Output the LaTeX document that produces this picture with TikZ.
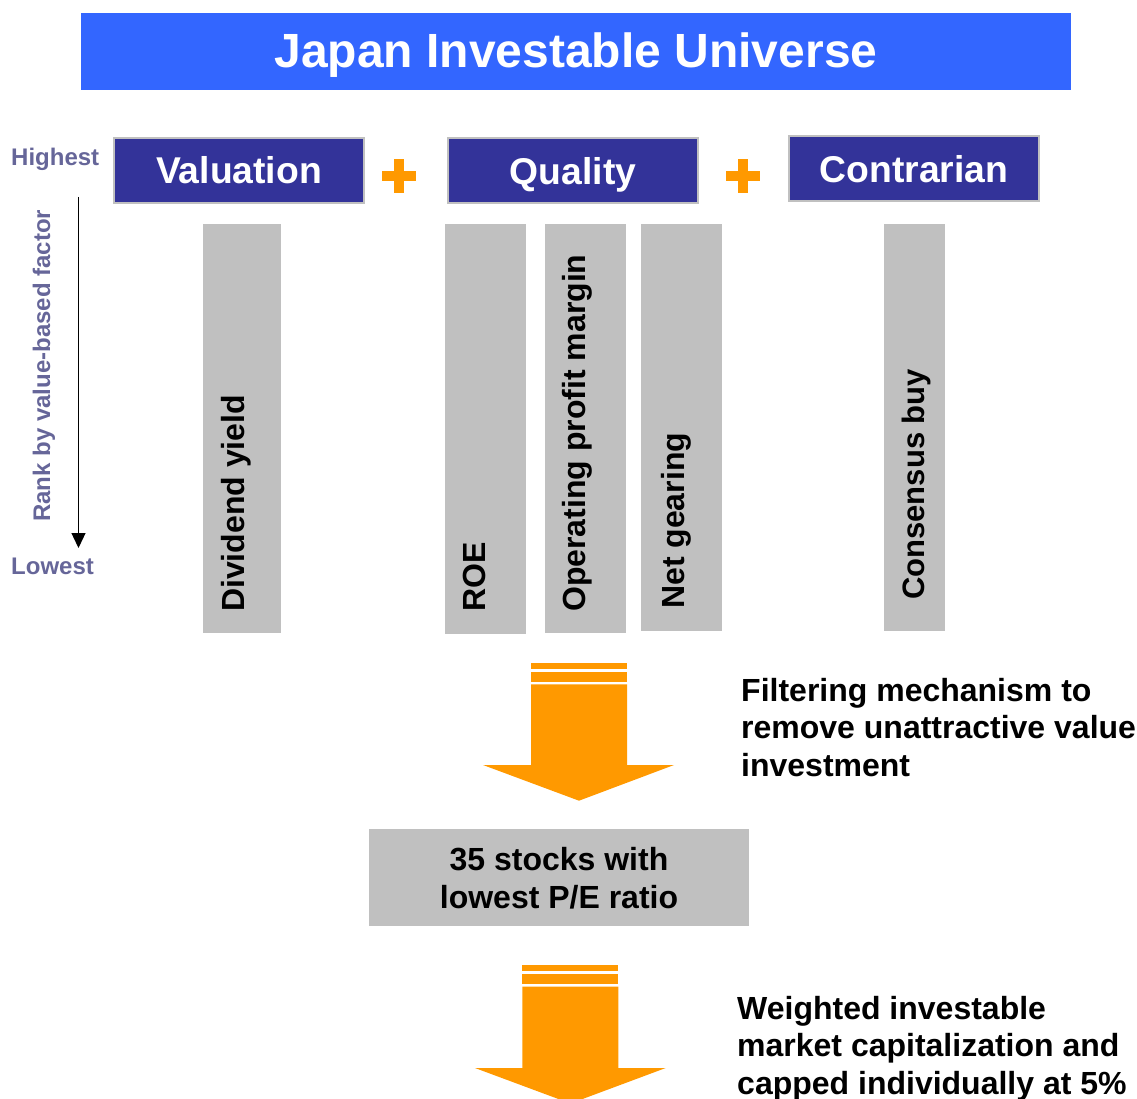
\documentclass[tikz,border=0pt]{standalone}
\usepackage{fontspec}
\setmainfont{Liberation Sans}
\usetikzlibrary{arrows.meta}
\definecolor{titleblue}{RGB}{51,102,255}
\definecolor{navy}{RGB}{51,51,153}
\definecolor{barg}{RGB}{192,192,192}
\definecolor{orng}{RGB}{255,153,0}
\definecolor{axisc}{RGB}{102,102,153}
\begin{document}
\begin{tikzpicture}[x=1pt,y=-1pt,
  titlebox/.style={fill=titleblue, minimum width=990pt, minimum height=77pt, inner sep=0pt},
  titletext/.style={text=white, inner sep=0pt, font=\bfseries\fontsize{48}{50}\selectfont},
  hdr/.style={fill=navy, draw=barg, line width=2pt, minimum width=250pt, minimum height=65pt,
    inner sep=0pt, text=white, text height=26.5pt, text depth=0pt, font=\bfseries\fontsize{37.3}{40}\selectfont},
  bar/.style={fill=barg, inner sep=0pt, anchor=north west},
  bartxt/.style={rotate=90, anchor=base west, inner sep=0pt, font=\bfseries\fontsize{32}{36}\selectfont},
  axislbl/.style={text=axisc, inner sep=0pt, font=\bfseries\fontsize{24}{26}\selectfont},
  bodytxt/.style={inner sep=0pt, align=left, font=\bfseries\fontsize{32}{37.5}\selectfont},
  plusbar/.style={fill=orng},
  bigarrow/.style={fill=orng},
  axisarrow/.style={line width=1.3pt, -{Triangle[width=14pt,length=15pt]}}
]
\useasboundingbox (0,0) rectangle (1137,1099);

% title
\node[titlebox] (title) at (576,51.5) {};
\node[titletext, anchor=base] (titlet) at (576,68) {Japan Investable Universe};

% headers
\node[hdr] (val) at (239,170.5) {Valuation};
\node[hdr] (qual) at (573,171) {Quality};
\node[hdr] (con) at (914,169) {Contrarian};

% plus signs
\fill[plusbar] (382,171) rectangle (416,181);
\fill[plusbar] (394,159) rectangle (404,193);
\fill[plusbar] (726,171) rectangle (760,181);
\fill[plusbar] (738,159) rectangle (748,193);

% bars
\node[bar, minimum width=78pt, minimum height=409pt] (b1) at (203,224) {};
\node[bar, minimum width=81pt, minimum height=410pt] (b2) at (445,224) {};
\node[bar, minimum width=81pt, minimum height=409pt] (b3) at (545,224) {};
\node[bar, minimum width=81pt, minimum height=407pt] (b4) at (641,224) {};
\node[bar, minimum width=61pt, minimum height=407pt] (b5) at (884,224) {};

\node[bartxt] (t1) at (244,612) {Dividend yield};
\node[bartxt] (t2) at (485.5,612) {ROE};
\node[bartxt] (t3) at (585.5,612) {Operating profit margin};
\node[bartxt] (t4) at (684,609) {Net gearing};
\node[bartxt, font=\bfseries\fontsize{31}{36}\selectfont] (t5) at (924.5,600) {Consensus buy};

% axis
\node[axislbl, anchor=base west] (hi) at (11,166) {Highest};
\node[axislbl, anchor=base west] (lo) at (11,574) {Lowest};
\node[axislbl, rotate=90, anchor=base west] (rank) at (50,522) {Rank by value-based factor};
\coordinate (axtop) at (78.5,197);
\coordinate (axbot) at (78.5,548);
\draw[axisarrow] (axtop) -- (axbot);

% arrow 1
\fill[bigarrow] (531,663.3) rectangle (627,669);
\fill[bigarrow] (531,671.7) rectangle (627,681.7);
\fill[bigarrow] (531,684.3) -- (627,684.3) -- (627,765) -- (674,765) -- (579,800.7) -- (483,765) -- (531,765) -- cycle;

% text 1 (anchor = baseline of last line)
\node[bodytxt, anchor=base west] (filt) at (741,776) {Filtering mechanism to\\remove unattractive value\\investment};

% PE box
\node[fill=barg, minimum width=380pt, minimum height=97pt, inner sep=0pt] (pe) at (559,877.5) {};
\node[bodytxt, align=center, anchor=base] (pet) at (559,908) {35 stocks with\\lowest P/E ratio};

% arrow 2
\fill[bigarrow] (522.3,965) rectangle (618.3,971.3);
\fill[bigarrow] (522.3,974) rectangle (618.3,984);
\fill[bigarrow] (522.3,986.7) -- (618.3,986.7) -- (618.3,1068) -- (665.7,1068) -- (570.5,1103.5) -- (475,1068) -- (522.3,1068) -- cycle;

% text 2
\node[bodytxt, anchor=base west] (wt) at (737,1094) {Weighted investable\\market capitalization and\\capped individually at 5\%};
\end{tikzpicture}
\end{document}
